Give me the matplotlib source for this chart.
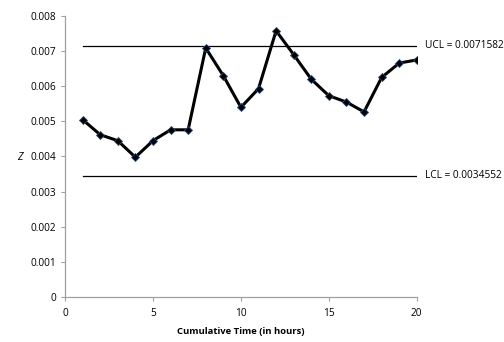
import matplotlib
matplotlib.use('Agg')
import matplotlib.pyplot as plt

# --- data ---
hours = list(range(1, 21))
z_values = [0.00505, 0.00462, 0.00445, 0.00398, 0.00445, 0.00476, 0.00476,
            0.00709, 0.00630, 0.00540, 0.00593, 0.00758, 0.00690, 0.00620,
            0.00573, 0.00555, 0.00527, 0.00625, 0.00666, 0.00675]
ucl = 0.0071582
lcl = 0.0034552

plt.rcParams['font.family'] = ['Open Sans', 'DejaVu Sans']

fig = plt.figure(figsize=(5.04, 3.42), dpi=100)
ax = fig.add_axes([0.129, 0.1316, 0.698, 0.8216])

ax.plot(hours, z_values, color='black', linewidth=2.2, marker='D',
        markersize=4, markerfacecolor='black', markeredgecolor='#2a4a7a',
        markeredgewidth=0.6, zorder=3)
ax.plot([hours[0], hours[-1]], [ucl, ucl], color='black', linewidth=0.9)
ax.plot([hours[0], hours[-1]], [lcl, lcl], color='black', linewidth=0.9)

ax.text(20.45, ucl, f'UCL = {ucl:.7f}', fontsize=7.3, va='center', ha='left')
ax.text(20.45, lcl, f'LCL = {lcl:.7f}', fontsize=7.3, va='center', ha='left')

ax.set_xlim(0, 20)
ax.set_ylim(0, 0.008)
ax.set_xticks([0, 5, 10, 15, 20])
ax.set_yticks([0, 0.001, 0.002, 0.003, 0.004, 0.005, 0.006, 0.007, 0.008])
ax.set_yticklabels(['0', '0.001', '0.002', '0.003', '0.004', '0.005',
                    '0.006', '0.007', '0.008'])

for side in ['top', 'right']:
    ax.spines[side].set_visible(False)
for side in ['left', 'bottom']:
    ax.spines[side].set_color('#a0a0a0')
    ax.spines[side].set_linewidth(0.9)
ax.tick_params(axis='both', colors='#a0a0a0', labelcolor='black',
               labelsize=7.3, length=3, width=0.8, direction='out')
ax.tick_params(axis='x', pad=5)

ax.set_xlabel('Cumulative Time (in hours)', fontsize=6.8, fontweight='bold',
              labelpad=6)
fig.text(20 / 504, 1 - 158 / 342, 'Z', fontsize=7.5, style='italic',
         ha='center', va='center')

fig.savefig('out.png', dpi=100)
